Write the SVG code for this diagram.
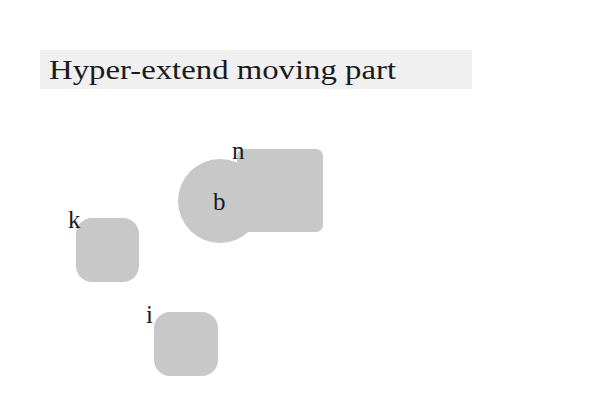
<svg xmlns="http://www.w3.org/2000/svg" width="600" height="400" viewBox="0 0 600 400">
<style>
.shape{fill:#c8c8c8}
.lbl{font-family:"Liberation Serif","DejaVu Serif",serif;font-size:25px;fill:#1a1a1a}
</style>
<rect width="600" height="400" fill="#fff"/>
<g id="title">
<rect x="40" y="50" width="432" height="39" fill="#f0f0f0"/>
<text x="49" y="79" class="lbl" style="font-size:27px" textLength="347" lengthAdjust="spacingAndGlyphs">Hyper-extend moving part</text>
</g>
<g id="connectors"></g>
<g id="n">
<rect class="shape" x="237" y="149" width="86" height="83" rx="7"/>
<text class="lbl" x="232" y="159">n</text>
</g>
<g id="b">
<circle class="shape" cx="220" cy="201" r="42"/>
<text class="lbl" x="213" y="210">b</text>
</g>
<g id="k">
<rect class="shape" x="76" y="218" width="63" height="64" rx="16"/>
<text class="lbl" x="68" y="228">k</text>
</g>
<g id="i">
<rect class="shape" x="154" y="312" width="64" height="64" rx="16"/>
<text class="lbl" x="146" y="323">i</text>
</g>
</svg>
